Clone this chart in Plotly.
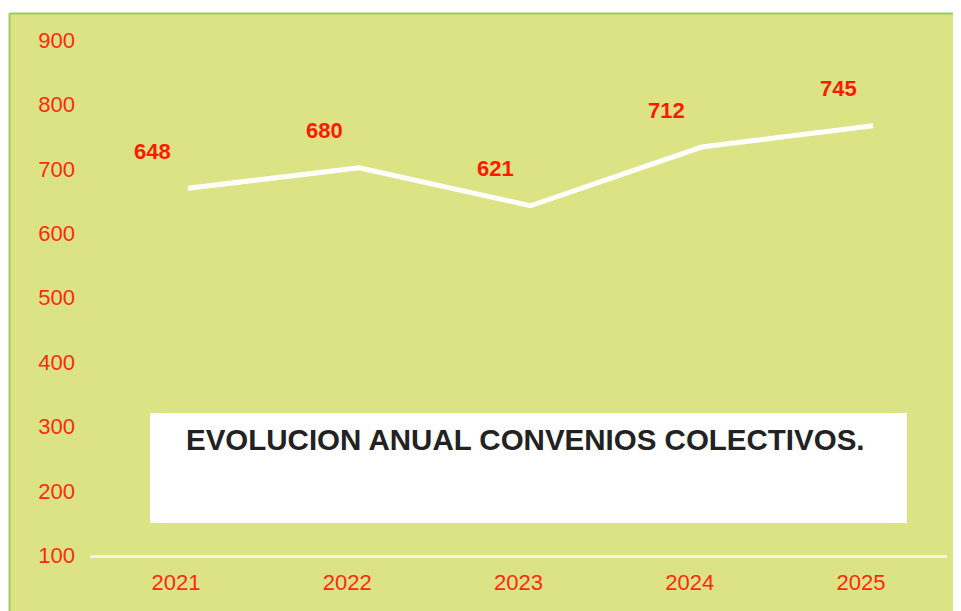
import plotly.graph_objects as go

# data
years = ["2021", "2022", "2023", "2024", "2025"]
convenios = [648, 680, 621, 712, 745]
y_ticks = [100, 200, 300, 400, 500, 600, 700, 800, 900]
title_text = "EVOLUCION ANUAL CONVENIOS COLECTIVOS."

BG = "#DCE385"
RED = "#FF2A10"
LABEL_RED = "#FF1A00"
FONT = "Liberation Sans, Arial, sans-serif"

fig = go.Figure()

fig.add_trace(go.Scatter(
    x=years, y=convenios,
    mode="lines",
    line=dict(color="white", width=5),
    hoverinfo="x+y",
    showlegend=False,
))

# value labels, up and to the left of each point (x given as category index)
for i, val in enumerate(convenios):
    fig.add_annotation(
        x=i, y=val, text=f"<b>{val}</b>",
        showarrow=False, xshift=-35, yshift=37,
        font=dict(family=FONT, size=22, color=LABEL_RED),
    )

# white title box inside the plot
fig.add_shape(type="rect", xref="paper", yref="paper",
              x0=0.070, x1=0.9533, y0=0.0598, y1=0.2654,
              fillcolor="white", line_width=0, layer="below")
fig.add_annotation(
    xref="paper", yref="paper", x=0.5076, y=0.215, yanchor="middle",
    text=f"<b>{title_text}</b>", showarrow=False,
    font=dict(family=FONT, size=29.5, color="#222222"),
)

# white margin strips and thin green frame of the original chart
fig.add_shape(type="rect", xref="paper", yref="paper",
              x0=-0.12, x1=1.05, y0=1.0131, y1=1.08,
              fillcolor="white", line_width=0, layer="below")
fig.add_shape(type="rect", xref="paper", yref="paper",
              x0=-0.12, x1=-0.0945, y0=-0.13, y1=1.08,
              fillcolor="white", line_width=0, layer="below")
fig.add_shape(type="line", xref="paper", yref="paper",
              x0=-0.0939, x1=1.05, y0=1.0121, y1=1.0121,
              line=dict(color="#9CCB5C", width=2), layer="below")
fig.add_shape(type="line", xref="paper", yref="paper",
              x0=-0.0939, x1=-0.0939, y0=-0.13, y1=1.0121,
              line=dict(color="#9CCB5C", width=2), layer="below")

fig.update_xaxes(
    type="category",
    range=[-0.572, 4.432],
    showgrid=False, zeroline=False,
    showline=True, linecolor="#F6F4D8", linewidth=3,
    ticks="", ticklabelshift=-12, ticklabelstandoff=6,
    tickfont=dict(family=FONT, size=22, color=RED),
)
fig.update_yaxes(
    range=[79.5, 909],
    tickvals=y_ticks,
    showgrid=False, zeroline=False, showline=False,
    ticks="", ticklabelshift=14, ticklabelstandoff=14,
    tickfont=dict(family=FONT, size=22, color=RED),
)

# page body adds an 8px offset, so size and margins compensate for it
fig.update_layout(
    width=953, height=603,
    margin=dict(l=82, r=14, t=12, b=56),
    paper_bgcolor=BG,
    plot_bgcolor=BG,
    showlegend=False,
)

fig.write_html("out.html")
